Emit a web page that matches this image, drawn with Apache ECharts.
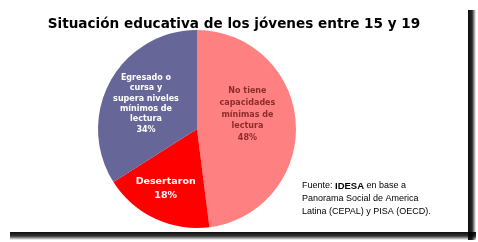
<!DOCTYPE html>
<html><head><meta charset="utf-8">
<script src="https://cdn.jsdelivr.net/npm/echarts@6/dist/echarts.min.js"></script>
<style>html,body{margin:0;padding:0;background:#fff}#c{width:478px;height:242px}</style>
</head><body><div id="c"></div>
<script>
const titleText = 'Situación educativa de los jóvenes entre 15 y 19';
const categories = [
  'No tiene\ncapacidades\nmínimas de\nlectura',
  'Desertaron',
  'Egresado o\ncursa y\nsupera niveles\nmínimos de\nlectura'
];
const values = [48, 18, 34];
const colors = ['#ff8080', '#ff0000', '#666699'];
const sourceLines = ['Fuente: ', 'IDESA', ' en base a', 'Panorama Social de America', 'Latina (CEPAL) y PISA (OECD).'];

const labelStyles = [
  {color: '#8b2c2c', fontSize: 8, lineHeight: 11.7, fontWeight: 'bold', fontFamily: 'DejaVu Sans'},
  {color: '#ffffff', fontSize: 9.5, lineHeight: 14, fontWeight: 'bold', fontFamily: 'DejaVu Sans'},
  {color: '#ffffff', fontSize: 8, lineHeight: 10.4, fontWeight: 'bold', fontFamily: 'DejaVu Sans'}
];
const labelShift = [[-2, -11], [-9, 12], [-5, 0]];

const chart = echarts.init(document.getElementById('c'), null, {renderer: 'canvas'});
chart.setOption({
  backgroundColor: '#ffffff',
  animation: false,
  title: {
    text: titleText, left: 229, top: 12, textAlign: 'center',
    textStyle: {fontFamily: 'DejaVu Sans', fontWeight: 'bold', fontSize: 13.6, color: '#000'}
  },
  graphic: [
    {type: 'rect', shape: {x: 468, y: 10, width: 8, height: 230}, z: 0,
     style: {fill: new echarts.graphic.LinearGradient(0, 0, 1, 0, [
       {offset: 0, color: 'rgba(0,0,0,0.95)'}, {offset: 0.5, color: 'rgba(0,0,0,0.85)'}, {offset: 1, color: 'rgba(0,0,0,0)'}])}},
    {type: 'rect', shape: {x: 10, y: 232, width: 466, height: 8}, z: 0,
     style: {fill: new echarts.graphic.LinearGradient(0, 0, 0, 1, [
       {offset: 0, color: 'rgba(0,0,0,0.95)'}, {offset: 0.5, color: 'rgba(0,0,0,0.8)'}, {offset: 1, color: 'rgba(0,0,0,0)'}])}},
    {type: 'text', left: 302, top: 181, z: 10,
     style: {
       text: '{n|' + sourceLines[0] + '}{b|' + sourceLines[1] + '}{n|' + sourceLines[2] + '}\n{n|' + sourceLines[3] + '}\n{n|' + sourceLines[4] + '}',
       rich: {
         n: {fontFamily: 'Liberation Sans', fontSize: 9, lineHeight: 13, fill: '#000'},
         b: {fontFamily: 'Liberation Sans', fontSize: 9.5, fontWeight: 'bold', lineHeight: 13, fill: '#000'}
       }
     }}
  ],
  series: [{
    type: 'pie',
    center: [197, 129],
    radius: [0, 99],
    startAngle: 90,
    clockwise: true,
    silent: true,
    label: {
      position: 'inside',
      formatter: '{b}\n{d}%',
      align: 'center'
    },
    labelLine: {show: false},
    labelLayout: function (p) { return {dx: labelShift[p.dataIndex][0], dy: labelShift[p.dataIndex][1]}; },
    data: categories.map(function (c, i) {
      return {name: c, value: values[i], itemStyle: {color: colors[i]}, label: labelStyles[i]};
    })
  }]
});
</script></body></html>
